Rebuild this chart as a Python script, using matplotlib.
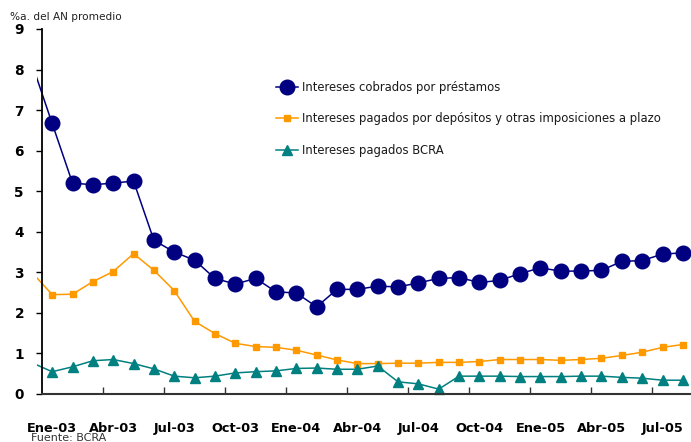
import numpy as np
import matplotlib
matplotlib.use("Agg")
import matplotlib.pyplot as plt
from matplotlib.patches import Rectangle

# meses: Dic-02 (fuera del eje) hasta Ago-05
meses = ["Dic-02",
         "Ene-03", "Feb-03", "Mar-03", "Abr-03", "May-03", "Jun-03",
         "Jul-03", "Ago-03", "Sep-03", "Oct-03", "Nov-03", "Dic-03",
         "Ene-04", "Feb-04", "Mar-04", "Abr-04", "May-04", "Jun-04",
         "Jul-04", "Ago-04", "Sep-04", "Oct-04", "Nov-04", "Dic-04",
         "Ene-05", "Feb-05", "Mar-05", "Abr-05", "May-05", "Jun-05",
         "Jul-05", "Ago-05"]

prestamos = [8.15,
             6.67, 5.20, 5.16, 5.20, 5.25, 3.79,
             3.50, 3.30, 2.85, 2.71, 2.85, 2.52,
             2.49, 2.15, 2.58, 2.58, 2.66, 2.64,
             2.74, 2.85, 2.87, 2.75, 2.80, 2.97,
             3.11, 3.03, 3.03, 3.05, 3.27, 3.29,
             3.45, 3.48]

depositos = [3.00,
             2.45, 2.46, 2.77, 3.02, 3.46, 3.05,
             2.55, 1.79, 1.49, 1.25, 1.17, 1.15,
             1.08, 0.96, 0.84, 0.75, 0.75, 0.76,
             0.76, 0.78, 0.78, 0.80, 0.85, 0.85,
             0.85, 0.83, 0.85, 0.88, 0.95, 1.03,
             1.15, 1.22]

bcra = [0.77,
        0.55, 0.67, 0.82, 0.85, 0.75, 0.62,
        0.44, 0.40, 0.44, 0.52, 0.55, 0.57,
        0.63, 0.64, 0.61, 0.61, 0.69, 0.30,
        0.25, 0.12, 0.44, 0.44, 0.44, 0.43,
        0.43, 0.43, 0.44, 0.44, 0.41, 0.39,
        0.34, 0.34]

etiquetas = ["Ene-03", "Abr-03", "Jul-03", "Oct-03", "Ene-04", "Abr-04",
             "Jul-04", "Oct-04", "Ene-05", "Abr-05", "Jul-05"]

x = np.arange(len(meses)) - 1  # Ene-03 = 0

plt.rcParams["font.family"] = ["DejaVu Sans"]

fig = plt.figure(figsize=(6.91, 4.42), dpi=100)
ax = fig.add_axes([0.0608, 0.1086, 0.9392, 0.8258])

series = [
    (prestamos, "Intereses cobrados por préstamos", "#000080", "o", 10.5),
    (depositos, "Intereses pagados por depósitos y otras imposiciones a plazo",
     "#FF9900", "s", 4.5),
    (bcra, "Intereses pagados BCRA", "#008080", "^", 7.5),
]

# el primer tramo (Dic-02) asoma un poco a la izquierda del eje
clip = Rectangle((-0.75, -1), 40, 20, transform=ax.transData)
for vals, lab, col, mk, ms in series:
    ln, = ax.plot(x, vals, color=col, lw=1.1, marker=mk, ms=ms,
                  markevery=slice(1, None), label=lab)
    ln.set_clip_path(clip)

ax.set_xlim(-0.5, 31.4)
ax.set_ylim(0, 9)
ax.set_yticks(range(0, 10))

# marcas entre categorías cada tres meses, etiquetas en el mes
ax.set_xticks(np.arange(2.5, 31.4, 3))
ax.set_xticklabels([])
ax.tick_params(axis="x", direction="in", length=5, width=1, color="#333333")
ax.set_xticks(np.arange(0, 31, 3), minor=True)
ax.set_xticklabels(etiquetas, minor=True, fontsize=9.3, fontweight="bold")
ax.tick_params(axis="x", which="minor", length=0, pad=20)
ax.tick_params(axis="y", direction="out", length=4, width=1, pad=9,
               labelsize=9.8)
for t in ax.get_yticklabels():
    t.set_fontweight("bold")

for s in ("top", "right"):
    ax.spines[s].set_visible(False)
ax.spines["left"].set_color("black")
ax.spines["left"].set_linewidth(1.3)
ax.spines["bottom"].set_color("#333333")
ax.spines["bottom"].set_linewidth(1.5)

fig.text(0.015, 0.962, "%a. del AN promedio", fontsize=7.6, color="#222222",
         va="center")
fig.text(0.045, 0.008, "Fuente: BCRA", fontsize=8, color="#333333",
         va="center")

leg = ax.legend(loc="upper left", bbox_to_anchor=(0.392, 0.828),
                bbox_transform=fig.transFigure, frameon=False,
                fontsize=8.4, handlelength=1.9, handletextpad=0.4,
                labelspacing=1.6, borderaxespad=0)
for t in leg.get_texts():
    t.set_color("#1a1a1a")

fig.savefig("out.png", dpi=100)
